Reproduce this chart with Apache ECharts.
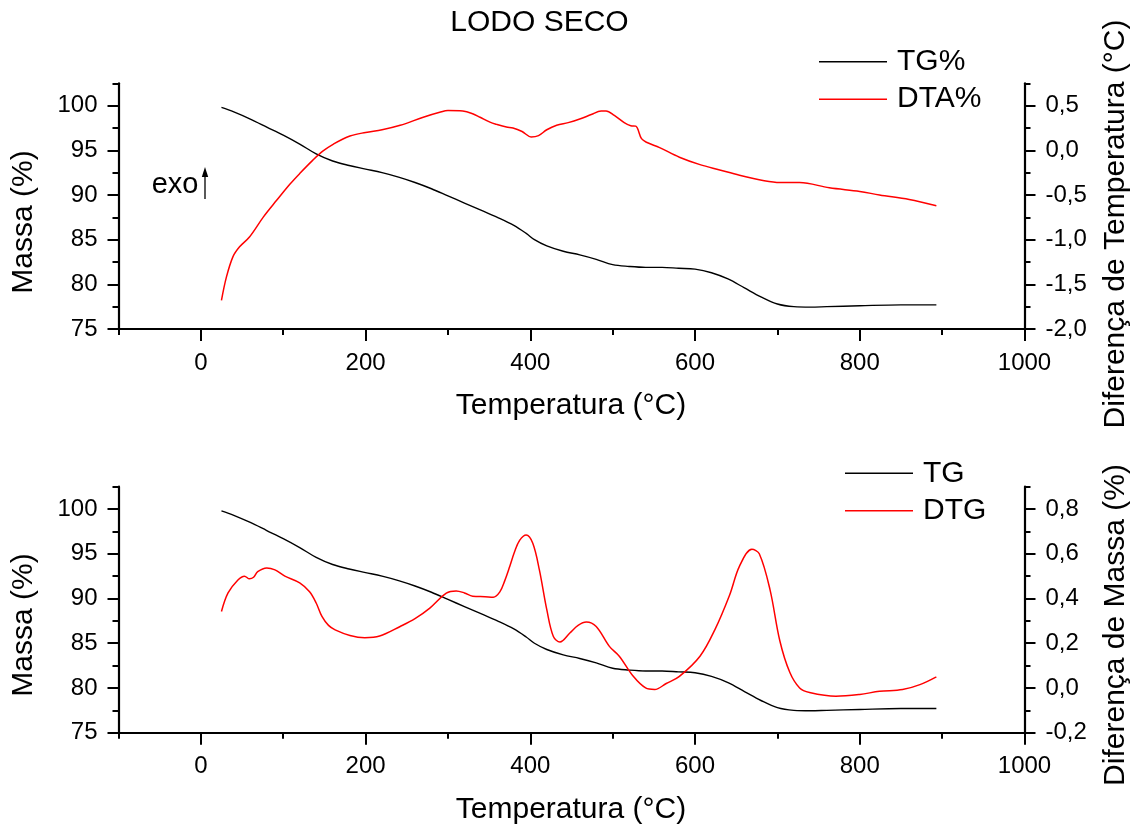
<!DOCTYPE html>
<html>
<head>
<meta charset="utf-8">
<script src="https://cdn.jsdelivr.net/npm/echarts@6/dist/echarts.min.js"></script>
<style>
  html, body { margin: 0; padding: 0; background: #fff; }
  #chart { width: 1144px; height: 827px; }
</style>
</head>
<body>
<div id="chart"></div>
<script>
// Thermogravimetric curves of the dried sludge sample

// TG mass loss (%), shared by both panels
const tgTemp = [25, 40, 60, 80, 100, 120, 140, 160, 180, 200, 220, 240, 260, 280, 300, 320, 340, 360, 380, 395, 405, 420, 440, 460, 480, 500, 520, 540, 560, 580, 600, 620, 640, 660, 680, 700, 720, 740, 760, 800, 850, 893];
const tgMass = [99.8, 99.3, 98.5, 97.6, 96.7, 95.7, 94.6, 93.8, 93.3, 92.9, 92.5, 92.0, 91.4, 90.7, 89.9, 89.1, 88.3, 87.5, 86.6, 85.7, 85.0, 84.3, 83.7, 83.3, 82.8, 82.2, 82.0, 81.9, 81.9, 81.8, 81.7, 81.3, 80.6, 79.6, 78.6, 77.8, 77.5, 77.45, 77.5, 77.6, 77.7, 77.7];

// DTA temperature difference (°C)
const dtaTemp = [25, 31, 39, 47, 59, 76, 92, 108, 120, 136, 148, 161, 181, 200, 220, 242, 270, 290, 300, 318, 330, 339, 351, 359, 371, 379, 390, 401, 410, 420, 432, 446, 460, 474, 486, 492, 502, 514, 522, 528, 535, 541, 557, 581, 606, 630, 654, 684, 703, 727, 763, 800, 824, 860, 893];
const dtaDiff = [-1.68, -1.42, -1.19, -1.08, -0.97, -0.745, -0.56, -0.38, -0.26, -0.11, -0.01, 0.07, 0.16, 0.2, 0.23, 0.28, 0.37, 0.425, 0.445, 0.44, 0.41, 0.37, 0.315, 0.29, 0.26, 0.25, 0.21, 0.15, 0.165, 0.23, 0.28, 0.31, 0.35, 0.4, 0.44, 0.44, 0.39, 0.31, 0.275, 0.27, 0.13, 0.09, 0.03, -0.077, -0.16, -0.22, -0.28, -0.34, -0.36, -0.36, -0.42, -0.46, -0.5, -0.55, -0.62];

// DTG mass difference (%)
const dtgTemp = [25, 33, 45, 53, 59, 64, 69, 80, 90, 102, 120, 132, 140, 147, 155, 163, 181, 199, 217, 242, 260, 278, 298, 310, 320, 330, 345, 355, 363, 369, 375, 381, 387, 395, 403, 411, 420, 428, 436, 448, 458, 468, 480, 496, 508, 525, 540, 551, 565, 581, 606, 624, 642, 654, 669, 678, 691, 703, 715, 727, 739, 771, 800, 824, 852, 873, 893];
const dtgDiff = [0.342, 0.425, 0.483, 0.5, 0.488, 0.495, 0.52, 0.537, 0.528, 0.5, 0.47, 0.43, 0.38, 0.32, 0.28, 0.26, 0.235, 0.225, 0.232, 0.275, 0.31, 0.357, 0.424, 0.434, 0.425, 0.41, 0.408, 0.406, 0.43, 0.48, 0.543, 0.61, 0.66, 0.684, 0.647, 0.528, 0.35, 0.23, 0.206, 0.246, 0.28, 0.295, 0.275, 0.186, 0.142, 0.052, 0.0, -0.007, 0.02, 0.052, 0.142, 0.26, 0.416, 0.545, 0.62, 0.6, 0.44, 0.21, 0.07, 0.0, -0.02, -0.037, -0.029, -0.015, -0.007, 0.015, 0.05];

// Tick values
const tempTicks = [0, 200, 400, 600, 800, 1000];
const massTicks = [75, 80, 85, 90, 95, 100];
const dtaTicks = [-2.0, -1.5, -1.0, -0.5, 0.0, 0.5];
const dtgTicks = [-0.2, 0.0, 0.2, 0.4, 0.6, 0.8];

const FONT = 'Liberation Sans, Arial, Helvetica, sans-serif';
const zip = (xs, ys) => xs.map((x, i) => [x, ys[i]]);
const commaFmt = v => (Math.abs(v) < 1e-9 ? 0 : v).toFixed(1).replace('.', ',');
const intFmt = v => String(Math.round(v));

const axisLineStyle = { show: true, onZero: false, lineStyle: { color: '#000', width: 2.2 } };
const tickStyle = { color: '#000', width: 2 };
const labelStyle = { color: '#000', fontSize: 24, fontFamily: FONT };

function mainX(grid) {
  return {
    type: 'value', gridIndex: grid, position: 'bottom', min: -100, max: 1000, interval: 100,
    axisLine: axisLineStyle,
    axisTick: { show: true, length: 12, lineStyle: tickStyle, customValues: tempTicks },
    axisLabel: Object.assign({ margin: 22, customValues: tempTicks, formatter: intFmt }, labelStyle),
    splitLine: { show: false }
  };
}
function minorX(grid) {
  return {
    type: 'value', gridIndex: grid, position: 'bottom', min: -100, max: 1000, interval: 100,
    axisLine: { show: false, onZero: false },
    axisTick: { show: true, length: 6, lineStyle: tickStyle },
    axisLabel: { show: false },
    splitLine: { show: false }
  };
}
function mainY(grid, pos, min, max, interval, ticks, fmt) {
  return {
    type: 'value', gridIndex: grid, position: pos, min: min, max: max, interval: interval,
    axisLine: axisLineStyle,
    axisTick: { show: true, length: 11, lineStyle: tickStyle, customValues: ticks },
    axisLabel: Object.assign({ margin: 21, customValues: ticks, formatter: fmt }, labelStyle),
    splitLine: { show: false }
  };
}
function minorY(grid, pos, min, max, interval) {
  return {
    type: 'value', gridIndex: grid, position: pos, min: min, max: max, interval: interval,
    axisLine: { show: false, onZero: false },
    axisTick: { show: true, length: 6, lineStyle: tickStyle },
    axisLabel: { show: false },
    splitLine: { show: false }
  };
}

function text(str, x, y, rot, extra) {
  return Object.assign({
    type: 'text', x: x, y: y, rotation: rot || 0,
    style: { text: str, fontSize: 30, fontFamily: FONT, fill: '#000', align: 'center', verticalAlign: 'middle' }
  }, extra || {});
}

function curve(name, xIdx, yIdx, xs, ys, color, width) {
  return {
    name: name, type: 'line', xAxisIndex: xIdx, yAxisIndex: yIdx, data: zip(xs, ys),
    showSymbol: false, smooth: 0.35, color: color,
    lineStyle: { color: color, width: width }
  };
}

const chart = echarts.init(document.getElementById('chart'), null, { renderer: 'canvas' });

chart.setOption({
  backgroundColor: '#fff',
  animation: false,
  grid: [
    { left: 118.5, top: 83.3, width: 906, height: 245.7 },
    { left: 118.5, top: 486.7, width: 906, height: 246 }
  ],
  xAxis: [mainX(0), minorX(0), mainX(1), minorX(1)],
  yAxis: [
    mainY(0, 'left', 75, 102.5, 2.5, massTicks, intFmt),
    minorY(0, 'left', 75, 102.5, 2.5),
    mainY(0, 'right', -2.0, 0.75, 0.25, dtaTicks, commaFmt),
    minorY(0, 'right', -2.0, 0.75, 0.25),
    mainY(1, 'left', 75, 102.5, 2.5, massTicks, intFmt),
    minorY(1, 'left', 75, 102.5, 2.5),
    mainY(1, 'right', -0.2, 0.9, 0.1, dtgTicks, commaFmt),
    minorY(1, 'right', -0.2, 0.9, 0.1)
  ],
  legend: [
    {
      data: ['TG%', 'DTA%'], orient: 'vertical', left: 819, top: 46.7, padding: 0,
      icon: 'rect', itemWidth: 68, itemHeight: 1.5, itemGap: 7.5,
      textStyle: { fontSize: 30, fontFamily: FONT, color: '#000', padding: [0, 0, 0, 5] }
    },
    {
      data: ['TG', 'DTG'], orient: 'vertical', left: 845, top: 458.3, padding: 0,
      icon: 'rect', itemWidth: 68, itemHeight: 1.5, itemGap: 7.5,
      textStyle: { fontSize: 30, fontFamily: FONT, color: '#000', padding: [0, 0, 0, 5] }
    }
  ],
  series: [
    curve('TG%', 0, 0, tgTemp, tgMass, '#000', 1.4),
    curve('DTA%', 0, 2, dtaTemp, dtaDiff, '#ff0000', 1.5),
    curve('TG', 2, 4, tgTemp, tgMass, '#000', 1.4),
    curve('DTG', 2, 6, dtgTemp, dtgDiff, '#ff0000', 1.5)
  ],
  graphic: [
    text('LODO SECO', 539.5, 23),
    text('Temperatura (°C)', 571, 406),
    text('Temperatura (°C)', 571, 810),
    text('Massa (%)', 24, 222, Math.PI / 2),
    text('Massa (%)', 24, 625, Math.PI / 2),
    text('Diferença de Temperatura (°C)', 1116, 224, Math.PI / 2),
    text('Diferença de Massa (%)', 1116, 625, Math.PI / 2),
    // exothermic direction marker
    text('exo', 151.7, 184.5, 0, { style: { text: 'exo', fontSize: 29, fontFamily: FONT, fill: '#000', align: 'left', verticalAlign: 'middle' } }),
    { type: 'line', shape: { x1: 205, y1: 199, x2: 205, y2: 175 }, style: { stroke: '#000', lineWidth: 1.3 } },
    { type: 'polygon', shape: { points: [[205, 167], [201.8, 177], [208.2, 177]] }, style: { fill: '#000' } }
  ]
});
</script>
</body>
</html>
